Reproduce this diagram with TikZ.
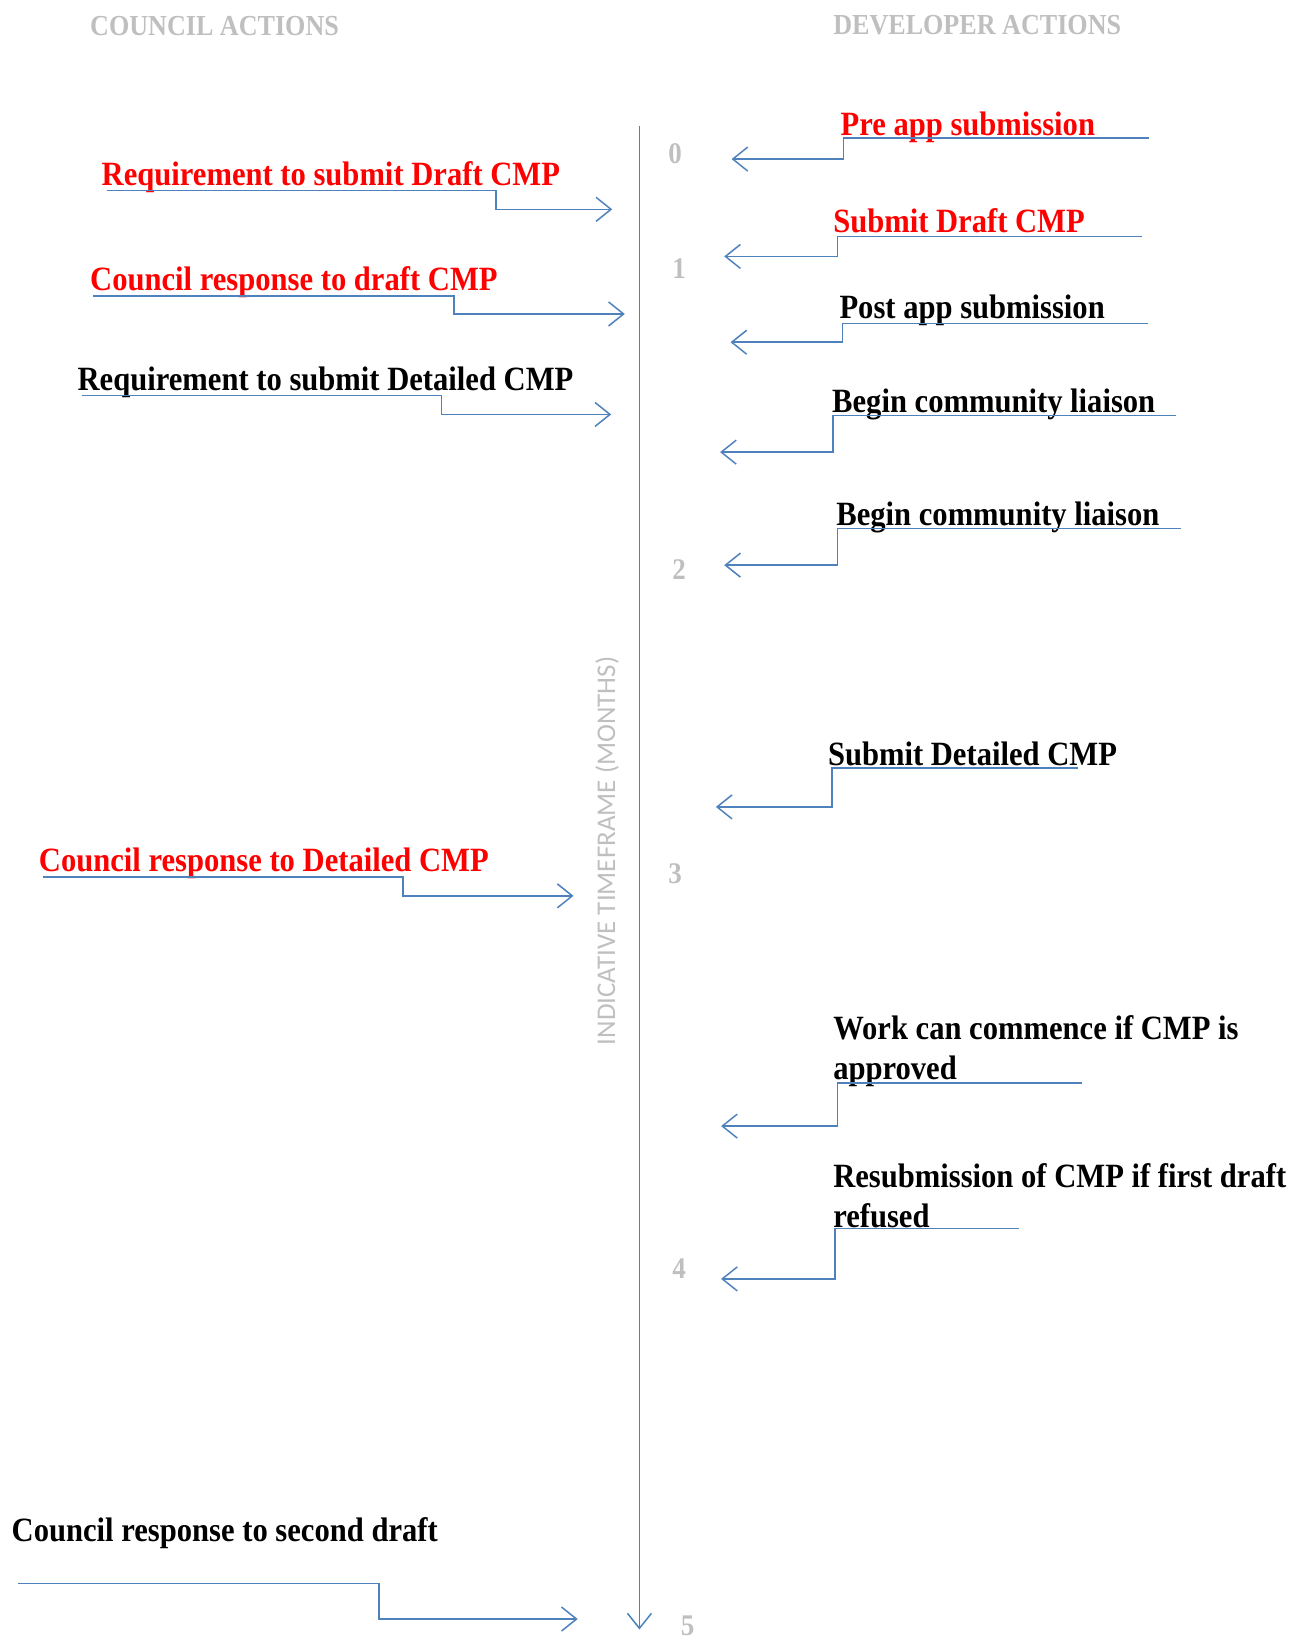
\documentclass[tikz,border=0pt]{standalone}
\usepackage{fontspec}
\setmainfont[FakeStretch=0.9]{Liberation Serif}
\newfontfamily\axisfont{Carlito}
\usetikzlibrary{arrows.meta}
\definecolor{linkblue}{RGB}{79,129,189}
\definecolor{lightgrey}{RGB}{191,191,191}
\definecolor{actred}{RGB}{255,0,0}
\tikzset{
  action/.style={anchor=base west, inner sep=0pt, align=left,
    font=\fontsize{34}{40}\selectfont\bfseries},
  redaction/.style={action, text=actred},
  heading/.style={anchor=base west, inner sep=0pt, text=lightgrey,
    font=\fontsize{29}{34}\selectfont\bfseries},
  tick/.style={anchor=base, inner sep=0pt, text=lightgrey,
    font=\fontsize{30}{34}\selectfont\bfseries},
  link/.style={draw=linkblue, line width=1.5pt,
    -{Straight Barb[length=15pt,width=24pt]}}
}
\begin{document}
\begin{tikzpicture}[x=1.0466pt, y=-1.0466pt]
  \useasboundingbox (0,0) rectangle (1245,1568);

  % Headings
  \node[heading] (council) at (86,34) {COUNCIL ACTIONS};
  \node[heading] (developer) at (796,33) {DEVELOPER ACTIONS};

  % Timeline
  \coordinate (top) at (611,120);
  \coordinate (bottom) at (611,1557);
  \draw[link] (top) -- (bottom);
  \node[rotate=90, text=lightgrey, font=\axisfont\fontsize{27}{30}\selectfont]
    (axislabel) at (580,813) {INDICATIVE TIMEFRAME (MONTHS)};

  \node[tick] (m0) at (645,156) {0};
  \node[tick] (m1) at (649,266) {1};
  \node[tick] (m2) at (649,554) {2};
  \node[tick] (m3) at (645,844) {3};
  \node[tick] (m4) at (649,1222) {4};
  \node[tick] (m5) at (657,1563) {5};

  % Council actions
  \node[redaction] (c1) at (97,177) {Requirement to submit Draft CMP};
  \node[redaction] (c2) at (86,278) {Council response to draft CMP};
  \node[action] (c3) at (74,373) {Requirement to submit Detailed CMP};
  \node[redaction] (c4) at (37,833) {Council response to Detailed CMP};
  \node[action] (c5) at (11,1473) {Council response to second draft};

  \coordinate (c1s) at (102,182);  \coordinate (c1k) at (474,182);  \coordinate (c1e) at (585,200);
  \coordinate (c2s) at (89,283);   \coordinate (c2k) at (434,283);  \coordinate (c2e) at (597,300);
  \coordinate (c3s) at (78,378);   \coordinate (c3k) at (422,378);  \coordinate (c3e) at (584,396);
  \coordinate (c4s) at (41,838);   \coordinate (c4k) at (385,838);  \coordinate (c4e) at (548,856);
  \coordinate (c5s) at (17,1513);  \coordinate (c5k) at (362,1513); \coordinate (c5e) at (552,1547);

  \draw[link] (c1s) -- (c1k) |- (c1e);
  \draw[link] (c2s) -- (c2k) |- (c2e);
  \draw[link] (c3s) -- (c3k) |- (c3e);
  \draw[link] (c4s) -- (c4k) |- (c4e);
  \draw[link] (c5s) -- (c5k) |- (c5e);

  % Developer actions
  \node[redaction] (d1) at (803,129) {Pre app submission};
  \node[redaction] (d2) at (796,222) {Submit Draft CMP};
  \node[action] (d3) at (802,304) {Post app submission};
  \node[action] (d4) at (795,394) {Begin community liaison};
  \node[action] (d5) at (799,502) {Begin community liaison};
  \node[action] (d6) at (791,731) {Submit Detailed CMP};
  \node[action] (d7) at (796,1031) {Work can commence if CMP is\\approved};
  \node[action] (d8) at (796,1173) {Resubmission of CMP if first draft\\refused};

  \coordinate (d1s) at (1098,132); \coordinate (d1k) at (806,132);  \coordinate (d1e) at (699,152);
  \coordinate (d2s) at (1091,226); \coordinate (d2k) at (800,226);  \coordinate (d2e) at (692,245);
  \coordinate (d3s) at (1097,309); \coordinate (d3k) at (805,309);  \coordinate (d3e) at (698,327);
  \coordinate (d4s) at (1124,397); \coordinate (d4k) at (796,397);  \coordinate (d4e) at (688,432);
  \coordinate (d5s) at (1128,505); \coordinate (d5k) at (800,505);  \coordinate (d5e) at (692,540);
  \coordinate (d6s) at (1030,734); \coordinate (d6k) at (795,734);  \coordinate (d6e) at (684,771);
  \coordinate (d7s) at (1034,1035); \coordinate (d7k) at (800,1035); \coordinate (d7e) at (689,1076);
  \coordinate (d8s) at (974,1174); \coordinate (d8k) at (798,1174); \coordinate (d8e) at (689,1222);

  \draw[link] (d1s) -- (d1k) |- (d1e);
  \draw[link] (d2s) -- (d2k) |- (d2e);
  \draw[link] (d3s) -- (d3k) |- (d3e);
  \draw[link] (d4s) -- (d4k) |- (d4e);
  \draw[link] (d5s) -- (d5k) |- (d5e);
  \draw[link] (d6s) -- (d6k) |- (d6e);
  \draw[link] (d7s) -- (d7k) |- (d7e);
  \draw[link] (d8s) -- (d8k) |- (d8e);
\end{tikzpicture}
\end{document}
